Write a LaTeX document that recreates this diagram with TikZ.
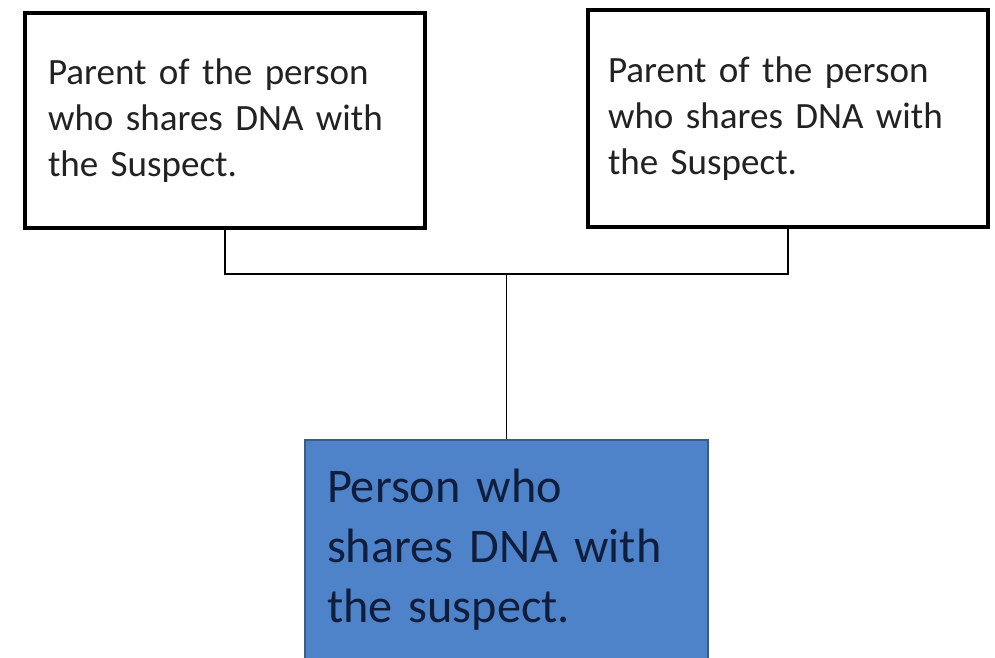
\documentclass[tikz,border=0pt]{standalone}
\usepackage{fontspec}
\setmainfont{Carlito}
\usepackage{tikz}
\definecolor{childblue}{RGB}{79,131,201}
\definecolor{childedge}{RGB}{58,92,140}
\definecolor{childtext}{RGB}{16,30,62}
\definecolor{parenttext}{RGB}{34,34,34}

\begin{document}
\begin{tikzpicture}[x=0.75pt,y=-0.75pt,
  parentbox/.style={draw=black,line width=2.8pt,fill=white,inner sep=0pt,
    minimum width=300pt,align=left,text=parenttext,
    font=\fontsize{27.8}{34.6}\selectfont},
  childbox/.style={draw=childedge,line width=1.5pt,fill=childblue,inner sep=0pt,
    minimum width=302.25pt,minimum height=164.6pt,align=left,text=childtext,
    text width=269.25pt,font=\fontsize{36.2}{45}\selectfont},
  tree/.style={draw=black,line width=1.1pt}]
\useasboundingbox (0,0) rectangle (995,657);
\clip (0,0) rectangle (995,657);
%%% The two parents on top
\node[parentbox,minimum height=161.25pt,text width=265.5pt] (leftparent) at (225,120.5)
  {Parent of the person\\who shares DNA with\\the Suspect.};
\node[parentbox,minimum height=162.75pt,text width=270pt] (rightparent) at (788,118.5)
  {Parent of the person\\who shares DNA with\\the Suspect.};
%%% The person below
\node[childbox] (child) at (506.5,549.75)
  {Person who\\shares DNA with\\the suspect.};
%%% The family lines
\coordinate (join) at (506.5,274);
\draw[tree] (leftparent.south) |- (join) -| (rightparent.south);
\draw[tree] (join) -- (child.north);
\end{tikzpicture}
\end{document}
